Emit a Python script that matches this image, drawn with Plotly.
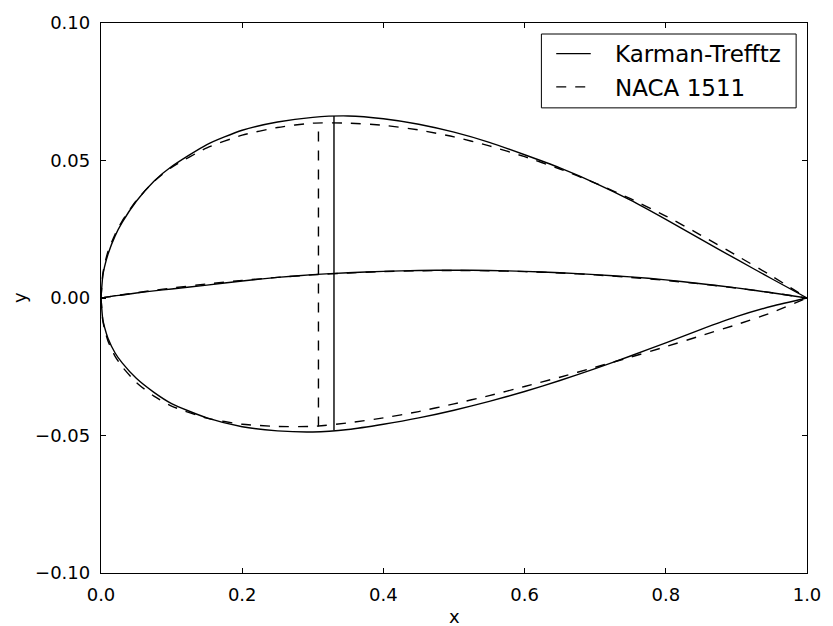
import plotly.graph_objects as go

# Chord stations (shared grid for surfaces and camber lines)
xs = [0.0, 0.0025, 0.005, 0.01, 0.02, 0.03, 0.05, 0.075, 0.1, 0.15, 0.2, 0.25, 0.3, 0.35,
      0.4, 0.45, 0.5, 0.55, 0.6, 0.65, 0.7, 0.75, 0.8, 0.85, 0.9, 0.95, 1.0]

# Karman-Trefftz airfoil (solid)
kt_upper_y = [0.0, 0.0080, 0.0113, 0.0160, 0.0226, 0.0275, 0.0352, 0.0425, 0.0478, 0.0558, 0.0610,
              0.0640, 0.0657, 0.0662, 0.0652, 0.0632, 0.0603, 0.0566, 0.0521, 0.0473, 0.0418,
              0.0356, 0.0286, 0.0213, 0.0141, 0.0070, 0.0]
kt_lower_y = [0.0, -0.0078, -0.0106, -0.0147, -0.0200, -0.0236, -0.0292, -0.0343, -0.0384, -0.0436,
              -0.0468, -0.0483, -0.0487, -0.0478, -0.0459, -0.0436, -0.0408, -0.0376, -0.0340,
              -0.0300, -0.0257, -0.0211, -0.0163, -0.0114, -0.0068, -0.0030, 0.0]
kt_camber_y = [0.0, 0.0001, 0.0002, 0.0004, 0.0008, 0.0011, 0.0018, 0.0026, 0.0033, 0.0047, 0.0062,
               0.0075, 0.0085, 0.0092, 0.0097, 0.0100, 0.0101, 0.0100, 0.0097, 0.0092, 0.0085,
               0.0077, 0.0066, 0.0052, 0.0037, 0.0019, 0.0]
kt_tmax_x = [0.33, 0.33]
kt_tmax_y = [-0.0481, 0.0662]

# NACA 1511 (dashed)
naca_upper_y = [0.0, 0.0086, 0.0121, 0.0170, 0.0232, 0.0280, 0.0354, 0.0424, 0.0475, 0.0546, 0.0592,
                0.0620, 0.0636, 0.0636, 0.0628, 0.0611, 0.0586, 0.0553, 0.0514, 0.0469, 0.0418,
                0.0361, 0.0298, 0.0228, 0.0155, 0.0080, 0.0]
naca_lower_y = [0.0, -0.0081, -0.0113, -0.0157, -0.0212, -0.0250, -0.0307, -0.0357, -0.0393, -0.0437,
                -0.0459, -0.0467, -0.0467, -0.0454, -0.0436, -0.0413, -0.0385, -0.0355, -0.0322,
                -0.0288, -0.0252, -0.0215, -0.0177, -0.0137, -0.0097, -0.0053, 0.0]
naca_camber_y = [0.0, 0.0001, 0.0002, 0.0004, 0.0008, 0.0012, 0.0019, 0.0028, 0.0036, 0.0051, 0.0064,
                 0.0075, 0.0084, 0.0091, 0.0096, 0.0099, 0.0100, 0.0099, 0.0096, 0.0091, 0.0084,
                 0.0075, 0.0064, 0.0051, 0.0036, 0.0019, 0.0]
naca_tmax_x = [0.308, 0.308]
naca_tmax_y = [-0.0467, 0.0636]

series_names = ["Karman-Trefftz", "NACA 1511"]

x_ticks = [0.0, 0.2, 0.4, 0.6, 0.8, 1.0]
x_ticktext = ["0.0", "0.2", "0.4", "0.6", "0.8", "1.0"]
y_ticks = [-0.10, -0.05, 0.0, 0.05, 0.10]
y_ticktext = ["\u22120.10", "\u22120.05", "0.00", "0.05", "0.10"]

FONT = "DejaVu Sans"
LW = 1.4
DASH = "10px,9px"
solid = dict(color="black", width=LW, dash="solid", shape="spline", smoothing=0.6)
dashed = dict(color="black", width=LW, dash=DASH, shape="spline", smoothing=0.6)
solid_v = dict(color="black", width=LW, dash="solid")
dashed_v = dict(color="black", width=LW, dash=DASH)

fig = go.Figure()
for ys, ln in [(kt_upper_y, solid), (kt_lower_y, solid), (kt_camber_y, solid)]:
    fig.add_trace(go.Scatter(x=xs, y=ys, mode="lines", line=ln, name=series_names[0], showlegend=False))
fig.add_trace(go.Scatter(x=kt_tmax_x, y=kt_tmax_y, mode="lines", line=solid_v,
                         name=series_names[0], showlegend=False))
for ys, ln in [(naca_upper_y, dashed), (naca_lower_y, dashed), (naca_camber_y, dashed)]:
    fig.add_trace(go.Scatter(x=xs, y=ys, mode="lines", line=ln, name=series_names[1], showlegend=False))
fig.add_trace(go.Scatter(x=naca_tmax_x, y=naca_tmax_y, mode="lines", line=dashed_v,
                         name=series_names[1], showlegend=False))

axis_common = dict(showgrid=False, zeroline=False, showline=True, linecolor="black",
                   linewidth=1.3, mirror="allticks", ticks="inside", ticklen=5,
                   tickwidth=1, tickcolor="black",
                   tickfont=dict(family=FONT, size=18, color="black"))

# Legend (matplotlib-style box), positioned in paper coordinates
legend_shapes = [
    dict(type="rect", xref="paper", yref="paper", x0=0.6238, x1=0.9846, y0=0.8457, y1=0.9800,
         line=dict(color="black", width=1), fillcolor="white", layer="above"),
    dict(type="line", xref="paper", yref="paper", x0=0.6448, x1=0.6937, y0=0.9443, y1=0.9443,
         line=dict(color="black", width=LW, dash="solid"), layer="above"),
    dict(type="line", xref="paper", yref="paper", x0=0.6448, x1=0.6937, y0=0.8838, y1=0.8838,
         line=dict(color="black", width=LW, dash=DASH), layer="above"),
]
legend_texts = [
    dict(text=series_names[0], xref="paper", yref="paper", x=0.7259, y=0.9428,
         xanchor="left", yanchor="middle", showarrow=False,
         font=dict(family=FONT, size=23, color="black")),
    dict(text=series_names[1], xref="paper", yref="paper", x=0.7259, y=0.8820,
         xanchor="left", yanchor="middle", showarrow=False,
         font=dict(family=FONT, size=23, color="black")),
]

fig.update_layout(
    width=833, height=626,
    margin=dict(l=101, r=17, t=22, b=53),
    paper_bgcolor="white", plot_bgcolor="white",
    font=dict(family=FONT, color="black"),
    showlegend=False,
    xaxis=dict(range=[0, 1], tickvals=x_ticks, ticktext=x_ticktext,
               ticklabelstandoff=5, **axis_common),
    yaxis=dict(range=[-0.1, 0.1], tickvals=y_ticks, ticktext=y_ticktext,
               ticklabelstandoff=6, **axis_common),
    shapes=legend_shapes,
    annotations=legend_texts + [
        dict(text="x", xref="paper", yref="paper", x=0.5, y=-0.0799,
             xanchor="center", yanchor="middle", showarrow=False,
             font=dict(family=FONT, size=18, color="black")),
        dict(text="y", xref="paper", yref="paper", x=-0.116, y=0.5,
             xanchor="center", yanchor="middle", showarrow=False, textangle=-90,
             font=dict(family=FONT, size=18, color="black")),
    ],
)

fig.write_html("out.html")
